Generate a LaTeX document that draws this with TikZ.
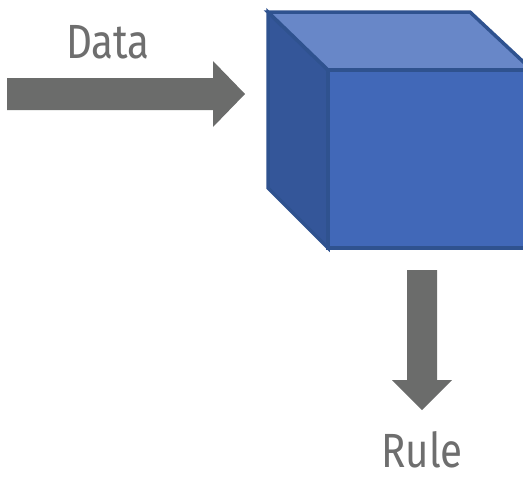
\documentclass[tikz,border=0pt]{standalone}
\usepackage{fontspec}
\setmainfont{Fira Sans}[FakeStretch=0.84]
\definecolor{arrowgray}{HTML}{6B6C6B}
\definecolor{textgray}{HTML}{6E6E6E}
\definecolor{cubeedge}{HTML}{2F528F}
\definecolor{cubefront}{HTML}{4168B8}
\definecolor{cubetop}{HTML}{6887C8}
\definecolor{cubeside}{HTML}{345699}
\tikzset{
  blockarrow/.style={fill=arrowgray, draw=none},
  face/.style={draw=cubeedge, line width=3.5pt, line join=miter},
  label/.style={text=textgray, font=\fontsize{48}{50}\selectfont, inner sep=0pt, anchor=base}
}
\begin{document}
\begin{tikzpicture}[x=1pt, y=-1pt]
  \useasboundingbox (0,0) rectangle (523,480);
  % cube, its right side runs past the page edge
  \begin{scope}
    \clip (0,0) rectangle (523,480);
    \coordinate (btl) at (268,12);
    \coordinate (btr) at (470,12);
    \coordinate (ftl) at (328,70);
    \coordinate (ftr) at (532,70);
    \coordinate (fbl) at (328,248);
    \coordinate (fbr) at (532,248);
    \coordinate (bbl) at (268,188);
    \filldraw[face, fill=cubeside] (btl) -- (ftl) -- (fbl) -- (bbl) -- cycle;
    \filldraw[face, fill=cubetop] (btl) -- (btr) -- (ftr) -- (ftl) -- cycle;
    \filldraw[face, fill=cubefront] (ftl) -- (ftr) -- (fbr) -- (fbl) -- cycle;
  \end{scope}
  % input arrow
  \fill[blockarrow] (7,78) -- (213,78) -- (213,61) -- (245,94) -- (213,127) -- (213,110) -- (7,110) -- cycle;
  \node[label] (data) at (108,58) {Data};
  % output arrow
  \fill[blockarrow] (407,270) -- (437,270) -- (437,380) -- (452,380) -- (422,410) -- (392,380) -- (407,380) -- cycle;
  \node[label] (rule) at (422,467) {Rule};
\end{tikzpicture}
\end{document}
